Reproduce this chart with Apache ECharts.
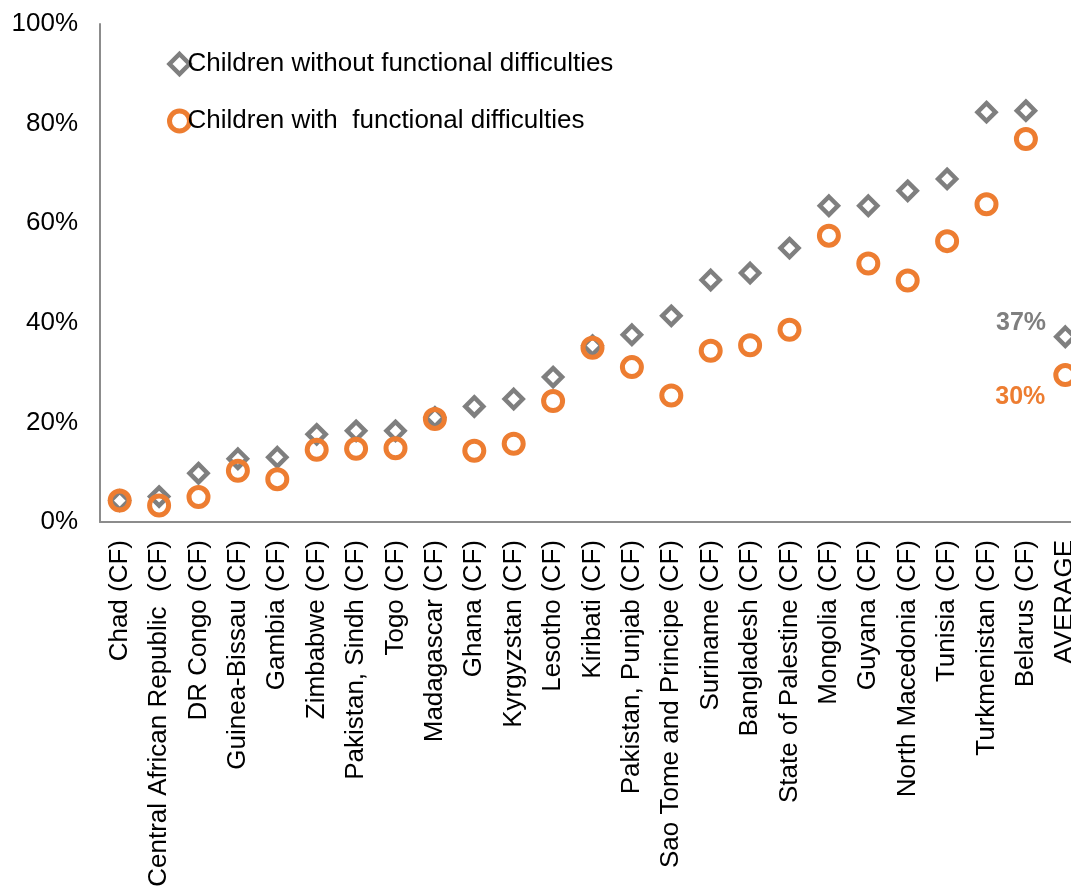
<!DOCTYPE html>
<html>
<head>
<meta charset="utf-8">
<script src="https://cdn.jsdelivr.net/npm/echarts@6/dist/echarts.min.js"></script>
<style>
html,body{margin:0;padding:0;background:#fff;overflow:hidden;width:1071px;height:892px;}
#chart{width:1085px;height:892px;}
</style>
</head>
<body>
<div id="chart"></div>
<script>
const categories = ["Chad (CF)","Central African Republic  (CF)","DR Congo (CF)","Guinea-Bissau (CF)","Gambia (CF)","Zimbabwe (CF)","Pakistan, Sindh (CF)","Togo (CF)","Madagascar (CF)","Ghana (CF)","Kyrgyzstan (CF)","Lesotho (CF)","Kiribati (CF)","Pakistan, Punjab (CF)","Sao Tome and Principe (CF)","Suriname (CF)","Bangladesh (CF)","State of Palestine (CF)","Mongolia (CF)","Guyana (CF)","North Macedonia (CF)","Tunisia (CF)","Turkmenistan (CF)","Belarus (CF)","AVERAGE"];
const withoutDifficulties = [4.3,5.1,9.8,12.7,13.0,17.6,18.3,18.3,21.0,23.2,24.7,29.1,35.4,37.6,41.4,48.6,50.0,55.0,63.5,63.5,66.5,68.9,82.3,82.6,37.2];
const withDifficulties = [4.3,3.3,5.0,10.3,8.6,14.5,14.7,14.8,20.7,14.3,15.7,24.3,35.0,31.1,25.4,34.4,35.5,38.6,57.5,51.9,48.5,56.4,63.8,76.9,29.5];
const seriesNames = ["Children without functional difficulties","Children with  functional difficulties"];
const yTicks = [0,20,40,60,80,100];

const GRAY = '#7f7f7f', ORANGE = '#ed7d31';
const FONT = '"Liberation Sans", Arial, sans-serif';

function withLastLabel(arr, color, offset){
  return arr.map((v,i)=> i===arr.length-1 ? {
    value:v,
    label:{show:true, position:'left', distance:8, offset:offset,
      formatter: Math.round(v)+'%', color:color, fontWeight:'bold', fontSize:25, fontFamily:FONT}
  } : v);
}

const chart = echarts.init(document.getElementById('chart'), null, {renderer:'canvas'});
chart.setOption({
  animation:false,
  backgroundColor:'#fff',
  grid:{left:100, right:0, top:24, bottom:370, containLabel:false},
  legend:{
    orient:'vertical', left:162, top:46, itemGap:31, itemWidth:20, itemHeight:20,
    textStyle:{fontSize:26, fontFamily:FONT, color:'#000', padding:[0,0,0,-7]},
    data:[
      {name:seriesNames[0], itemStyle:{color:'#fff', borderColor:GRAY, borderWidth:4.5}},
      {name:seriesNames[1], itemStyle:{color:'#fff', borderColor:ORANGE, borderWidth:5}}
    ]
  },
  xAxis:{
    type:'category', data:categories, boundaryGap:true,
    axisLine:{lineStyle:{color:'#8c8c8c', width:2}},
    axisTick:{show:false},
    axisLabel:{rotate:90, interval:0, fontSize:26, fontFamily:FONT, color:'#000', margin:18}
  },
  yAxis:{
    type:'value', min:yTicks[0], max:yTicks[yTicks.length-1], interval:20,
    axisLine:{show:true, lineStyle:{color:'#8c8c8c', width:2}},
    axisTick:{show:false},
    splitLine:{show:false},
    axisLabel:{formatter:'{value}%', fontSize:26, fontFamily:FONT, color:'#000', margin:22}
  },
  series:[
    {
      name:seriesNames[0], type:'scatter', symbol:'diamond', symbolSize:18,
      itemStyle:{color:'#fff', borderColor:GRAY, borderWidth:4.5, opacity:1},
      data:withLastLabel(withoutDifficulties, GRAY, [0,-14]), z:2
    },
    {
      name:seriesNames[1], type:'scatter', symbol:'circle', symbolSize:19,
      itemStyle:{color:'rgba(0,0,0,0)', borderColor:ORANGE, borderWidth:5, opacity:1},
      data:withLastLabel(withDifficulties, ORANGE, [0,22]), z:3
    }
  ]
});
</script>
</body>
</html>
